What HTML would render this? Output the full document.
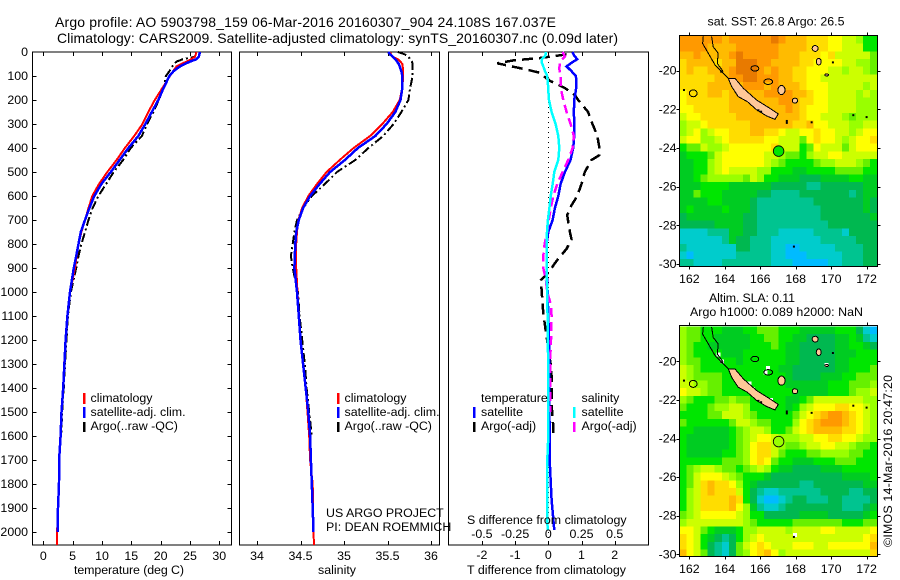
<!DOCTYPE html>
<html>
<head>
<meta charset="utf-8">
<title>Argo profile 5903798_159</title>
<style>
html,body{margin:0;padding:0;background:#fff;}
svg{display:block;font-family:"Liberation Sans",sans-serif;font-size:12.4px;fill:#000;}
text{fill:#000;stroke:none;}
</style>
</head>
<body>
<svg id="fig" xmlns="http://www.w3.org/2000/svg" width="900" height="580" viewBox="0 0 900 580">
<rect x="0" y="0" width="900" height="580" fill="#fff"/>
<text x="55" y="27" style="font-size:14px" textLength="501">Argo profile: AO 5903798_159 06-Mar-2016 20160307_904 24.108S 167.037E</text>
<text x="57" y="43" style="font-size:14px" textLength="561">Climatology: CARS2009. Satellite-adjusted climatology: synTS_20160307.nc (0.09d later)</text>
<text x="707.5" y="25.5" textLength="137">sat. SST: 26.8 Argo: 26.5</text>
<text x="709" y="302" textLength="86">Altim. SLA: 0.11</text>
<text x="690" y="316" textLength="173">Argo h1000: 0.089 h2000: NaN</text>
<text transform="translate(892,547) rotate(-90)" textLength="172">©IMOS 14-Mar-2016 20:47:20</text>
<text x="74" y="574" textLength="110">temperature (deg C)</text>
<text x="318" y="574" textLength="38">salinity</text>
<text x="467" y="574" textLength="159">T difference from climatology</text>
</svg>
<script>
// ---------- chart data ----------
const depthTicks = [0,100,200,300,400,500,600,700,800,900,1000,1100,1200,1300,1400,1500,1600,1700,1800,1900,2000];
const tempTicks = [0,5,10,15,20,25,30];
const salTicks = [34,34.5,35,35.5,36];
const salTickLabels = ['34','34.5','35','35.5','36'];
const tDiffTicks = [-2,-1,0,1,2];
const sDiffTicks = [-0.5,-0.25,0,0.25,0.5];
const sDiffTickLabels = ['-0.5','-0.25','0','0.25','0.5'];
const lonTicks = [162,164,166,168,170,172];
const latTicks = [-20,-22,-24,-26,-28,-30];

const profileDepths = [0,10,20,30,40,50,60,80,100,150,200,250,300,350,400,450,500,550,600,650,700,750,800,850,900,1000,1100,1200,1300,1400,1500,1600,1700,1800,1900,2000,2055];
const tempClim = [26.1,26,25.85,25.2,24.4,23.5,22.7,22.1,21.6,20.3,19,17.9,16.9,15.5,13.9,12.5,10.9,9.5,8.35,7.7,7.1,6.5,6,5.7,5.4,4.55,4.1,3.8,3.55,3.35,3.1,2.9,2.75,2.65,2.5,2.35,2.3];
const tempSat = [26.7,26.6,26.5,26.1,25,24.1,23.3,22.2,21.5,20.5,19.6,18.5,17.4,16.2,14.5,13,11.5,9.9,8.7,7.85,7.1,6.4,6,5.6,5.2,4.55,4.1,3.8,3.6,3.4,3.1,2.95,2.7,2.67,2.5,2.44,null];
const tempArgo = [26,26,25.8,23.8,22.7,22.3,22,21.5,20.9,20.5,19.7,18.75,17.7,16.8,14.9,13.6,12,10.7,9.4,8.4,7.7,7.1,6.5,6,5.6,4.7,4.2,3.95,3.7,3.5,3.2,3.05,null,null,null,null,null];
const salClim = [35.53,35.54,35.56,35.62,35.65,35.67,35.675,35.68,35.68,35.67,35.64,35.56,35.44,35.3,35.11,34.95,34.8,34.69,34.59,34.52,34.475,34.46,34.45,34.45,34.45,34.465,34.48,34.5,34.53,34.56,34.58,34.6,34.61,34.64,34.645,34.65,34.655];
const salSat = [35.51,35.53,35.56,35.59,35.61,35.63,35.64,35.66,35.67,35.67,35.65,35.59,35.49,35.36,35.16,35.01,34.84,34.72,34.61,34.53,34.48,34.45,34.44,34.435,34.43,34.46,34.48,34.5,34.53,34.56,34.59,34.61,34.62,34.63,34.64,34.65,null];
const salArgo = [35.62,35.7,35.74,35.76,35.78,35.79,35.79,35.79,35.79,35.76,35.74,35.66,35.57,35.45,35.28,35.13,34.92,34.78,34.63,34.53,34.46,34.43,34.41,34.39,34.41,34.47,34.49,34.52,34.55,34.57,34.6,34.63,null,null,null,null,null];

const satDiffDepths = [0,15,30,45,60,80,100,130,160,200,250,300,350,400,450,500,550,600,650,700,750,800,900,1000,1200,1400,1600,1728,1867,1992];
const tDiffSat = [0.73,0.78,0.87,0.7,0.55,0.7,0.83,0.85,0.83,0.78,0.77,0.78,0.78,0.75,0.67,0.5,0.37,0.3,0.2,0.13,0,-0.05,-0.05,-0.02,0.02,0.03,0.04,0.05,0.1,0.18];
const sDiffSat = [-0.018,-0.022,-0.05,-0.048,-0.038,-0.025,-0.008,-0.003,0,0.005,0.025,0.055,0.075,0.083,0.075,0.045,0.033,0.018,0.008,-0.003,-0.01,-0.013,-0.013,-0.008,-0.003,0,0,-0.01,-0.01,-0.005];
const tDiffArgoDepths = [10,25,35,47,60,75,85,100,120,150,180,200,250,300,350,400,430,450,500,550,600,650,680,750,780,820,870,920,950,1000,1033,1089,1158,1206,1311,1380,1450,1492,1561,1603];
const tDiffArgo = [0.55,-0.25,-1.05,-1.54,-1.1,-0.6,-0.3,-0.15,0.05,0.5,0.8,0.9,1.2,1.33,1.48,1.54,1.54,1.3,1.1,1,0.87,0.65,0.57,0.65,0.7,0.55,0.25,0,-0.22,-0.2,-0.18,-0.15,-0.08,-0.03,0.08,0.11,0.1,0.11,0.15,0.16];
const sDiffArgoDepths = [0,20,40,70,100,150,200,250,300,350,400,450,500,550,600,650,700,750,800,850,900,950,1000,1050,1100,1200,1300,1400,1500];
const sDiffArgo = [0.108,0.125,0.088,0.083,0.093,0.093,0.113,0.138,0.168,0.193,0.183,0.15,0.108,0.068,0.038,0.018,0.003,-0.008,-0.028,-0.038,-0.038,-0.018,-0.008,0.018,0.025,0.02,0.013,0.013,0.013];

// Map grids: each character is a base-36 colour level
const colourLevels = ['#00bbff','#00cccc','#00c490','#00b850','#00cc22','#00e600','#66f000','#99ff00','#ccff00','#ffff00','#ffdd00','#ffbb00','#ff9900','#e87a00'];
const sstGrid = [
"ccccccbccccccdcbbbaaa9988755",
"ccccbbbbccccccbbbbaaa9988855",
"bbcbbbbcdcccccbbbaaa9a888886",
"abbbbabbdddccbbbbaa999988776",
"abaabbbcdddcbcbbaa9998878876",
"aaaaabbccddcccbbaa9988888888",
"aaaabbbbbcccbcbbba9998888878",
"9aaabbabbbbbccccbba998888787",
"9aaaaaabbbbbbbccbaa998888777",
"99aaaaabbbbbbbbcba9998888777",
"899aaaaabbbbbbbbba9988876777",
"7889aaaaaabbbbbbaab998887788",
"7897899aaabbaa98899a99887899",
"8997789aaaaa9988869a9987899a",
"5668778999999a88856988868999",
"4555689999998876657889988888",
"4455789999998765555677888765",
"4455789888877555445555666655",
"4456777776875544433344445544",
"4445555444444333332233333344",
"4465554444433222233333332344",
"4444554444322222222333333343",
"4544445444322222222233333343",
"3444444443322222222233333334",
"3333344443322222222223333333",
"1111222443322211111222213333",
"1111112433222111111122222333",
"2111111133222110011111222233",
"1011111122222110001111122233",
"2211112222222111000001122233"];
const slaGrid = [
"7665554445566655544444555310",
"7665544444556655443333445421",
"7655444444555654433333445543",
"7655554445555554433333444555",
"7665555545555554433333445555",
"8765555555555544333333445556",
"8766665555555554333344455666",
"8877665555555554444445556667",
"9887665555555555444445556778",
"7655566766555554456888888877",
"6555677887555554578999aa9987",
"5555668887655555689abccba987",
"655555568876655579abcccba987",
"554444456788755689abbbbaa987",
"544444456789987778899aa99877",
"54444445679aa876678899887665",
"54444455679aa865556677776655",
"55555566679a9655444555666555",
"5678876656787544333344455555",
"5689998765554333333333344445",
"568abaa975433333322333333344",
"578abaaa85321122222233332233",
"578aaaaba5310012332223322223",
"578aaaab97421123333333322234",
"6789999987553333344443333345",
"7888888887655555666666655566",
"9986544457788887888899888889",
"a98543235789888888888888889a",
"a9853213689a988899988999999b",
"b9863213679ab97888888888888a"];

// Coast outlines as [lon,lat]
const mainIsland = [[164.2,-20.4],[164.58,-20.4],[165.05,-20.91],[165.8,-21.52],[166.55,-21.95],[167.02,-22.24],[166.83,-22.52],[166.36,-22.34],[165.8,-22.03],[165.27,-21.6],[164.76,-21.34],[164.39,-20.83]];
const reefWest = [[162.79,-18.22],[162.75,-18.59],[163.07,-19.1],[163.45,-19.7],[163.82,-20.05],[164.2,-20.4]];
const reefEast = [[163.26,-18.22],[163.35,-18.76],[163.63,-19.1],[163.58,-19.62],[163.92,-20.05]];
const islandRings = [[162.22,-21.17,0.22,0.18],[165.7,-19.88,0.22,0.14],[166.45,-20.57,0.25,0.14]];
const islandFilled = [[167.2,-21,0.2,0.24],[167.96,-21.55,0.15,0.13],[169.1,-18.85,0.17,0.15],[169.3,-19.53,0.14,0.17],[169.75,-20.22,0.1,0.05]];
const coastDots = [[167.5,-22.7],[167.5,-22.6],[167.9,-29.1],[168.9,-22.67],[171.25,-22.3],[172,-22.4],[170.1,-19.57],[161.7,-21],[165.9,-22.05],[166.05,-22.12],[163.8,-20.05]];
const slaBlankCells = [[163.65,-19.65],[163.85,-20],[166.45,-20.35],[166.3,-20.58],[165.4,-21.15],[165.6,-21.45],[166.6,-22.0],[167.95,-29.0],[169.75,-20.18]];
const argoLon = 167.037;
const argoLat = -24.108;

// ---------- helpers ----------
const svg = document.getElementById('fig');
const NS = 'http://www.w3.org/2000/svg';
function make(tag, attrs, name) {
  const el = document.createElementNS(NS, tag);
  for (const k in attrs) el.setAttribute(k, attrs[k]);
  
  
  svg.appendChild(el);
  return el;
}
function seg(x1, y1, x2, y2, name, color, w) {
  return make('line', {x1, y1, x2, y2, stroke: color || '#000', 'stroke-width': w || 1, 'shape-rendering': 'crispEdges'}, name);
}
function label(x, y, str, anchor, name) {
  const t = make('text', {x, y, 'text-anchor': anchor || 'start'}, name);
  t.textContent = str;
  return t;
}
function box(x0, y0, x1, y1, name) {
  make('rect', {x: x0, y: y0, width: x1 - x0, height: y1 - y0, fill: 'none', stroke: '#000', 'stroke-width': 1, 'shape-rendering': 'crispEdges'}, name);
}
const depthY = d => 52 + 0.24 * d;
const PANEL_TOP = 52, PANEL_BOTTOM = 545;
const tempX = v => 43.3 + v * 5.867;
const salX = v => 257 + (v - 34) * 87;
const tDiffX = v => 548.3 + v * 33.2;
const sDiffX = v => 548.3 + v * 132.8;

function series(xs, ds, xScale, color, width, dash, name) {
  const pts = [];
  xs.forEach((v, i) => { if (v !== null) pts.push(xScale(v).toFixed(1) + ',' + depthY(ds[i]).toFixed(1)); });
  const a = {points: pts.join(' '), fill: 'none', stroke: color, 'stroke-width': width, 'shape-rendering': 'crispEdges'};
  if (dash) a['stroke-dasharray'] = dash;
  make('polyline', a, name);
}
function legendRow(mx, tx, y0, y1, base, color, str, key) {
  seg(mx, y0, mx, y1, key + '-marker', color, 2.5);
  label(tx, base, str, 'start', key + '-label');
}

// ---------- profile panels ----------
const panelBounds = [[32.5,231.5,'temperature'],[239.5,439.5,'salinity'],[448.5,648.5,'difference']];
panelBounds.forEach(p => box(p[0], PANEL_TOP, p[1], PANEL_BOTTOM, p[2] + '-panel-frame'));

depthTicks.forEach(d => {
  const y = Math.round(depthY(d)) + 0.5;
  if (d > 0) seg(32.5, y, 36.5, y, 'depth-tick-left', '#000', 1);
  if (d > 0) seg(227.5, y, 231.5, y, 'depth-tick-right', '#000', 1);
  label(28, depthY(d) + 4, String(d), 'end', 'depth-tick-label');
});
tempTicks.forEach(v => {
  const x = Math.round(tempX(v)) + 0.5;
  seg(x, PANEL_TOP, x, PANEL_TOP + 4, 'temperature-tick-top', '#000', 1);
  seg(x, PANEL_BOTTOM - 4, x, PANEL_BOTTOM, 'temperature-tick-bottom', '#000', 1);
  label(tempX(v), 560, String(v), 'middle', 'temperature-tick-label');
});
salTicks.forEach((v, i) => {
  const x = Math.round(salX(v)) + 0.5;
  seg(x, PANEL_TOP, x, PANEL_TOP + 4, 'salinity-tick-top', '#000', 1);
  seg(x, PANEL_BOTTOM - 4, x, PANEL_BOTTOM, 'salinity-tick-bottom', '#000', 1);
  label(salX(v), 560, salTickLabels[i], 'middle', 'salinity-tick-label');
});
tDiffTicks.forEach(v => {
  const x = Math.round(tDiffX(v)) + 0.5;
  seg(x, PANEL_TOP, x, PANEL_TOP + 4, 't-difference-tick-top', '#000', 1);
  seg(x, PANEL_BOTTOM - 4, x, PANEL_BOTTOM, 't-difference-tick-bottom', '#000', 1);
  label(tDiffX(v), 559, String(v), 'middle', 't-difference-tick-label');
});
make('line', {x1: 548.5, y1: PANEL_TOP, x2: 548.5, y2: PANEL_BOTTOM, stroke: '#000', 'stroke-width': 1, 'stroke-dasharray': '1,4'}, 'zero-difference-line');

series(tempArgo, profileDepths, tempX, '#000', 2, '9,3,2,3', 'temperature-argo-line');
series(tempClim, profileDepths, tempX, '#ff0000', 2, null, 'temperature-climatology-line');
series(tempSat, profileDepths, tempX, '#0000ff', 2.5, null, 'temperature-satellite-line');
series(salArgo, profileDepths, salX, '#000', 2, '9,3,2,3', 'salinity-argo-line');
series(salClim, profileDepths, salX, '#ff0000', 2, null, 'salinity-climatology-line');
series(salSat, profileDepths, salX, '#0000ff', 2.5, null, 'salinity-satellite-line');
series(tDiffArgo, tDiffArgoDepths, tDiffX, '#000', 2.5, '11,6', 't-difference-argo-line');
series(tDiffSat, satDiffDepths, tDiffX, '#0000ff', 2.5, null, 't-difference-satellite-line');
series(sDiffArgo, sDiffArgoDepths, sDiffX, '#ff00ff', 2.5, '9,5', 's-difference-argo-line');
series(sDiffSat, satDiffDepths, sDiffX, '#00ffff', 2.5, null, 's-difference-satellite-line');

// ---------- legends and notes ----------
[[84,90.5,'temperature'],[338,344.5,'salinity']].forEach(l => {
  legendRow(l[0], l[1], 393, 404, 402, '#ff0000', 'climatology', l[2] + '-legend-climatology');
  legendRow(l[0], l[1], 407, 418, 416, '#0000ff', 'satellite-adj. clim.', l[2] + '-legend-satellite');
  legendRow(l[0], l[1], 422, 432, 430, '#000', 'Argo(..raw -QC)', l[2] + '-legend-argo');
});
label(481, 402, 'temperature', 'start', 'difference-legend-temperature-heading');
legendRow(474, 481, 407, 418, 416, '#0000ff', 'satellite', 'difference-legend-t-satellite');
legendRow(474, 481, 422, 432, 430, '#000', 'Argo(-adj)', 'difference-legend-t-argo');
label(581.5, 402, 'salinity', 'start', 'difference-legend-salinity-heading');
legendRow(574, 581.5, 407, 418, 416, '#00ffff', 'satellite', 'difference-legend-s-satellite');
legendRow(574, 581.5, 422, 432, 430, '#ff00ff', 'Argo(-adj)', 'difference-legend-s-argo');
label(326, 517, 'US ARGO PROJECT', 'start', 'project-note');
label(326, 531, 'PI: DEAN ROEMMICH', 'start', 'pi-note');
label(467, 524, 'S difference from climatology', 'start', 's-difference-axis-title');
sDiffTicks.forEach((v, i) => label(sDiffX(v), 538, sDiffTickLabels[i], 'middle', 's-difference-tick-label'));

// ---------- maps ----------
const LON_MIN = 161.44, LON_MAX = 172.6, LAT_TOP = -18.2, LAT_BOTTOM = -30.15;
const mapX = lon => 689.3 + (lon - 162) * 17.73;
function drawMap(grid, y20, yScale, top, bottom, lonLabelY, prefix, circleLevel, blanks) {
  const mapY = lat => y20 + (-20 - lat) * yScale;
  const nR = grid.length;
  grid.forEach((row, r) => {
    const nC = row.length;
    for (let c = 0; c < nC; c++) {
      const level = parseInt(row[c], 36);
      const lonA = LON_MIN + (LON_MAX - LON_MIN) * c / nC;
      const lonB = LON_MIN + (LON_MAX - LON_MIN) * (c + 1) / nC;
      const latA = LAT_TOP + (LAT_BOTTOM - LAT_TOP) * r / nR;
      const latB = LAT_TOP + (LAT_BOTTOM - LAT_TOP) * (r + 1) / nR;
      const x0 = Math.max(mapX(LON_MIN), mapX(lonA)), y0 = Math.max(top, mapY(latA));
      make('rect', {x: x0.toFixed(1), y: y0.toFixed(1), width: (mapX(lonB) - x0 + 0.4).toFixed(1), height: (Math.min(bottom, mapY(latB)) - y0 + 0.4).toFixed(1), fill: colourLevels[level], 'shape-rendering': 'crispEdges'}, prefix + '-cell');
    }
  });
  blanks.forEach(b => make('rect', {x: mapX(b[0]) - 2, y: mapY(b[1]) - 2, width: 4, height: 4, fill: '#fff', 'shape-rendering': 'crispEdges'}, prefix + '-missing-cell'));
  const path = arr => arr.map(p => mapX(p[0]).toFixed(1) + ',' + mapY(p[1]).toFixed(1)).join(' ');
  make('polygon', {points: path(mainIsland), fill: '#ffc898', stroke: '#000', 'stroke-width': 1, 'shape-rendering': 'crispEdges'}, prefix + '-main-island');
  make('polyline', {points: path(reefWest), fill: 'none', stroke: '#000', 'stroke-width': 1, 'shape-rendering': 'crispEdges'}, prefix + '-reef-west');
  make('polyline', {points: path(reefEast), fill: 'none', stroke: '#000', 'stroke-width': 1, 'shape-rendering': 'crispEdges'}, prefix + '-reef-east');
  islandRings.forEach(p => make('ellipse', {cx: mapX(p[0]), cy: mapY(p[1]), rx: p[2] * 17.73, ry: p[3] * yScale, fill: 'none', stroke: '#000', 'shape-rendering': 'crispEdges'}, prefix + '-island-outline'));
  islandFilled.forEach(p => make('ellipse', {cx: mapX(p[0]), cy: mapY(p[1]), rx: p[2] * 17.73, ry: p[3] * yScale, fill: '#ffc898', stroke: '#000', 'shape-rendering': 'crispEdges'}, prefix + '-island'));
  coastDots.forEach(p => make('rect', {x: mapX(p[0]) - 1, y: mapY(p[1]) - 1, width: 2, height: 2, fill: '#000'}, prefix + '-islet'));
  make('circle', {cx: mapX(argoLon), cy: mapY(argoLat) + 1, r: 5.3, fill: colourLevels[circleLevel], stroke: '#000', 'stroke-width': 0.8}, prefix + '-argo-position');
  const L = 679.5, R = 877.5;
  box(L, top, R, bottom, prefix + '-frame');
  lonTicks.forEach(v => {
    const x = Math.round(mapX(v)) + 0.5;
    seg(x, top - 3, x, top, prefix + '-lon-tick-top', '#000', 1);
    seg(x, bottom, x, bottom + 3, prefix + '-lon-tick-bottom', '#000', 1);
    label(mapX(v), lonLabelY, String(v), 'middle', prefix + '-lon-label');
  });
  latTicks.forEach(v => {
    const y = Math.round(mapY(v)) + 0.5;
    seg(L - 3, y, L, y, prefix + '-lat-tick-left', '#000', 1);
    seg(R, y, R + 3, y, prefix + '-lat-tick-right', '#000', 1);
    label(676.5, mapY(v) + 4, String(v), 'end', prefix + '-lat-label');
  });
}
drawMap(sstGrid, 70.7, 19.33, 35.5, 266.5, 283, 'sst-map', 5, []);
drawMap(slaGrid, 361.3, 19.3, 325.5, 556.5, 573, 'sla-map', 7, slaBlankCells);
</script>
</body>
</html>
